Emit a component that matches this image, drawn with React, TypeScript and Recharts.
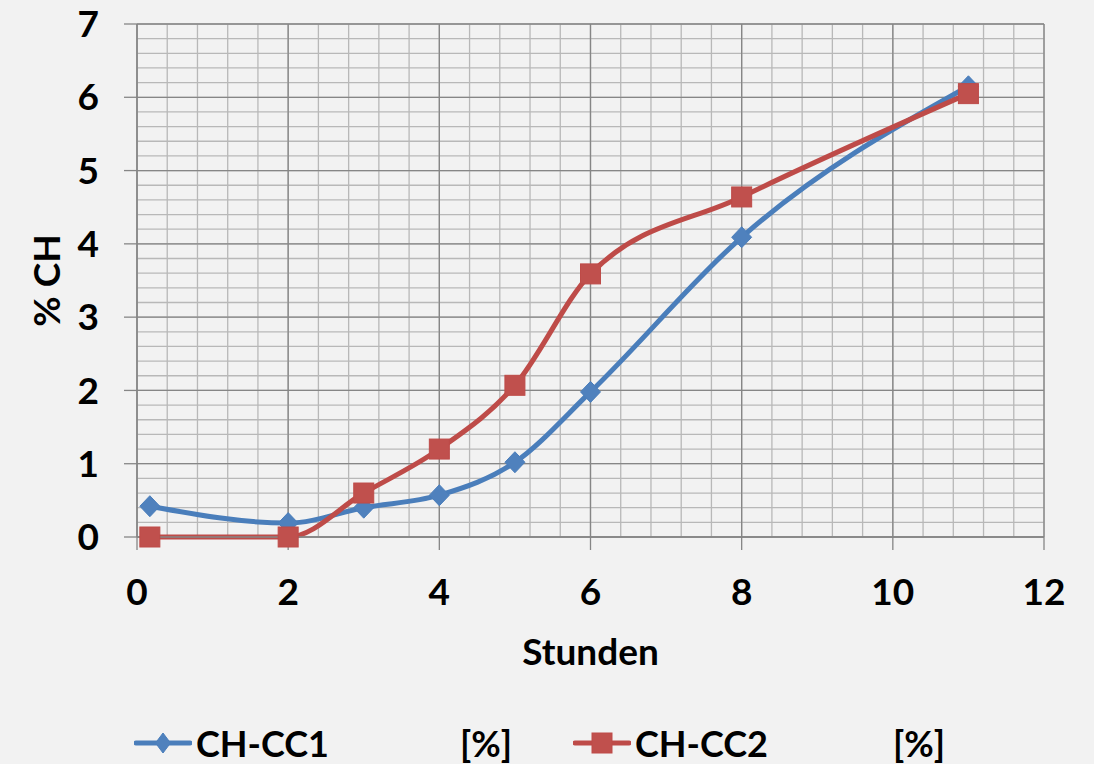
import React from 'react';
import { LineChart, Line, XAxis, YAxis, CartesianGrid } from 'recharts';

const hours = [0.17, 2, 3, 4, 5, 6, 8, 11];
const cc1 = [0.42, 0.19, 0.4, 0.57, 1.02, 1.98, 4.09, 6.15];
const cc2 = [0, 0, 0.6, 1.2, 2.07, 3.59, 4.64, 6.05];
const seriesNames = ['CH-CC1', 'CH-CC2'];
const unitLabel = '[%]';
const xTicks = [0, 2, 4, 6, 8, 10, 12];
const yTicks = [0, 1, 2, 3, 4, 5, 6, 7];
const xDomain = [0, 12];
const yDomain = [0, 7];
const xMinorTicks = Array.from({ length: 31 }, (_, i) => Math.round(i * 0.4 * 10) / 10);
const yMinorTicks = Array.from({ length: 36 }, (_, i) => Math.round(i * 0.2 * 10) / 10);
const xLabel = 'Stunden';
const yLabel = '% CH';

const data = hours.map((h, i) => ({ h, a: cc1[i], b: cc2[i] }));

const BLUE = '#4a7ebb';
const BLUE_FILL = '#4f81bd';
const RED = '#be4b48';
const RED_FILL = '#c0504d';
const FONT = 'Lato, "Open Sans", sans-serif';
const AXIS = '#868686';
const MINOR = '#b8b8b8';

const Diamond = (p: any) => {
  const { cx, cy } = p;
  if (cx == null || cy == null) return null;
  return (
    <path
      d={`M${cx} ${cy - 10.5} L${cx + 10} ${cy} L${cx} ${cy + 10.5} L${cx - 10} ${cy} Z`}
      fill={BLUE_FILL}
      stroke={BLUE}
      strokeWidth={1}
    />
  );
};

const Square = (p: any) => {
  const { cx, cy } = p;
  if (cx == null || cy == null) return null;
  return <rect x={cx - 10} y={cy - 10} width={20} height={20} fill={RED_FILL} stroke={RED} strokeWidth={1} />;
};

const tickStyle = { fill: '#000', fontSize: 37, fontWeight: 700, fontFamily: FONT };

const YLabel = (props: any) => {
  const vb = props.viewBox || {};
  const cx = 45;
  const cy = (vb.y ?? 24) + (vb.height ?? 513) / 2;
  return (
    <text
      x={cx}
      y={cy}
      transform={`rotate(-90 ${cx} ${cy})`}
      textAnchor="middle"
      dominantBaseline="central"
      fill="#000"
      fontSize={37}
      fontWeight={700}
      fontFamily={FONT}
    >
      {yLabel}
    </text>
  );
};

const applyScale = (s: any, v: number): number | null => {
  if (!s) return null;
  if (typeof s === 'function') return s(v);
  if (typeof s.map === 'function') {
    const r = s.map(v);
    if (typeof r === 'number') return r;
  }
  if (typeof s.scale === 'function') return s.scale(v);
  return null;
};

const hGen = (args: any) => {
  const s = args?.yAxis?.scale;
  const off = args?.offset || {};
  return yMinorTicks.map((v) => {
    const r = applyScale(s, v);
    if (typeof r === 'number' && !isNaN(r)) return r;
    return off.top + off.height * (1 - (v - yDomain[0]) / (yDomain[1] - yDomain[0]));
  });
};

const vGen = (args: any) => {
  const s = args?.xAxis?.scale;
  const off = args?.offset || {};
  return xMinorTicks.map((v) => {
    const r = applyScale(s, v);
    if (typeof r === 'number' && !isNaN(r)) return r;
    return off.left + off.width * ((v - xDomain[0]) / (xDomain[1] - xDomain[0]));
  });
};

const LegendItem = ({
  color,
  marker,
  name,
  unitGap,
}: {
  color: string;
  marker: 'diamond' | 'square';
  name: string;
  unitGap: number;
}) => (
  <div style={{ display: 'flex', alignItems: 'center' }}>
    <svg width={58} height={30} style={{ display: 'block' }}>
      <line x1={2} y1={15} x2={56} y2={15} stroke={color} strokeWidth={5} strokeLinecap="round" />
      {marker === 'diamond' ? (
        <path d="M29 5 L36.5 15 L29 25 L21.5 15 Z" fill={BLUE_FILL} stroke={BLUE} />
      ) : (
        <rect x={19} y={5} width={20} height={20} fill={RED_FILL} stroke={RED} />
      )}
    </svg>
    <span style={{ marginLeft: 4, whiteSpace: 'pre' }}>{name}</span>
    <span style={{ marginLeft: unitGap }}>{unitLabel}</span>
  </div>
);

export default function App() {
  return (
    <div style={{ position: 'absolute', left: 0, top: 0, width: 1094, height: 764, background: '#f2f2f2', overflow: 'hidden' }}>
      <LineChart width={1094} height={764} data={data} margin={{ top: 24, right: 50, left: 0, bottom: 97 }}>
        <CartesianGrid
          stroke={MINOR}
          strokeWidth={1.3}
          horizontalCoordinatesGenerator={hGen}
          verticalCoordinatesGenerator={vGen}
        />
        <CartesianGrid stroke={AXIS} strokeWidth={1.3} />
        <XAxis
          type="number"
          dataKey="h"
          domain={xDomain}
          ticks={xTicks}
          interval={0}
          height={130}
          tickSize={13}
          tickMargin={29}
          axisLine={{ stroke: AXIS, strokeWidth: 1.3 }}
          tickLine={{ stroke: AXIS, strokeWidth: 1.3 }}
          tick={tickStyle}
          label={{ value: xLabel, position: 'insideBottom', offset: 2, fill: '#000', fontSize: 37, fontWeight: 700, fontFamily: FONT }}
        />
        <YAxis
          type="number"
          domain={yDomain}
          ticks={yTicks}
          interval={0}
          width={137}
          tickSize={13}
          tickMargin={25}
          axisLine={{ stroke: AXIS, strokeWidth: 1.3 }}
          tickLine={{ stroke: AXIS, strokeWidth: 1.3 }}
          tick={tickStyle}
          label={<YLabel />}
        />
        <Line
          type="monotone"
          dataKey="a"
          name={seriesNames[0]}
          stroke={BLUE}
          strokeWidth={5}
          dot={<Diamond />}
          activeDot={false}
          isAnimationActive={false}
        />
        <Line
          type="monotone"
          dataKey="b"
          name={seriesNames[1]}
          stroke={RED}
          strokeWidth={5}
          dot={<Square />}
          activeDot={false}
          isAnimationActive={false}
        />
      </LineChart>
      <div
        style={{
          position: 'absolute',
          left: 134,
          top: 722,
          display: 'flex',
          alignItems: 'center',
          fontFamily: FONT,
          fontWeight: 700,
          fontSize: 36,
          lineHeight: '42px',
          color: '#000',
        }}
      >
        <LegendItem color={BLUE} marker="diamond" name={seriesNames[0]} unitGap={131} />
        <div style={{ width: 61 }} />
        <LegendItem color={RED} marker="square" name={seriesNames[1]} unitGap={125} />
      </div>
    </div>
  );
}
